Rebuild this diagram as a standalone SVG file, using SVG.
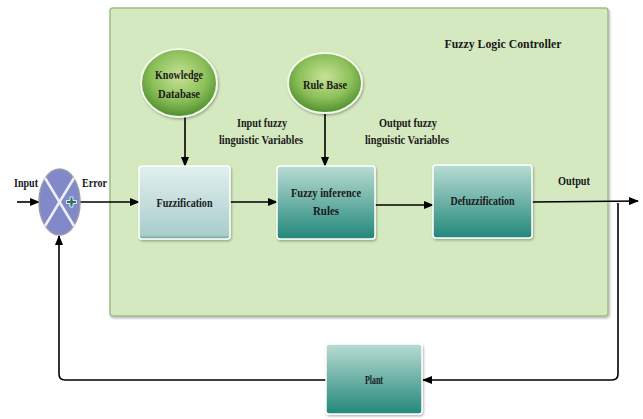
<svg xmlns="http://www.w3.org/2000/svg" width="643" height="419" viewBox="0 0 643 419">
<defs>
<radialGradient id="gEll" cx="50%" cy="40%" r="60%">
<stop offset="0" stop-color="#c8e296"/>
<stop offset="0.6" stop-color="#8cc05a"/>
<stop offset="1" stop-color="#4e8e2c"/>
</radialGradient>
<linearGradient id="gFuzz" x1="0" y1="0" x2="0" y2="1">
<stop offset="0" stop-color="#e2f0ef"/>
<stop offset="0.95" stop-color="#a9cdcb"/>
<stop offset="1" stop-color="#5e9f98"/>
</linearGradient>
<linearGradient id="gTeal" x1="0" y1="0" x2="0" y2="1">
<stop offset="0" stop-color="#b9dcd3"/>
<stop offset="1" stop-color="#22877a"/>
</linearGradient>
<filter id="sh" x="-10%" y="-10%" width="130%" height="130%">
<feDropShadow dx="1" dy="1.5" stdDeviation="1.2" flood-color="#000" flood-opacity="0.3"/>
</filter>
<marker id="ah" markerWidth="10" markerHeight="8" refX="9" refY="4" orient="auto" markerUnits="userSpaceOnUse">
<path d="M0,0 L10,4 L0,8 Z" fill="#000"/>
</marker>
</defs>
<style>
text{font-family:"Liberation Serif","Times New Roman",serif;font-weight:bold;fill:#1a1a1a;font-size:13px}
.c{text-anchor:middle}
.box{stroke:#ffffff;stroke-width:1.5;filter:url(#sh)}
.ell{fill:url(#gEll);stroke:#f4f8ec;stroke-width:2;filter:url(#sh)}
.ln{fill:none;stroke:#000;stroke-width:1.6}
</style>
<rect width="643" height="419" fill="#fff"/>

<g id="controller">
<rect x="110" y="8" width="498" height="308" rx="3" fill="#d4e9bf" stroke="#9fbf87" stroke-width="1.5" filter="url(#sh)"/>
<text x="503" y="48" class="c" font-size="13" textLength="117" lengthAdjust="spacingAndGlyphs">Fuzzy Logic Controller</text>
</g>

<g id="connectors">
<line class="ln" x1="17" y1="202" x2="39" y2="202" marker-end="url(#ah)"/>
<line class="ln" x1="80" y1="202" x2="139" y2="202" marker-end="url(#ah)"/>
<line class="ln" x1="185" y1="117" x2="185" y2="166" marker-end="url(#ah)"/>
<line class="ln" x1="325" y1="113" x2="325" y2="166" marker-end="url(#ah)"/>
<line class="ln" x1="230" y1="202" x2="277" y2="202" marker-end="url(#ah)"/>
<line class="ln" x1="375" y1="205" x2="433" y2="205" marker-end="url(#ah)"/>
<line class="ln" x1="532" y1="202" x2="638" y2="201" marker-end="url(#ah)"/>
<path class="ln" d="M618,203 V374 Q618,380 612,380 H423" marker-end="url(#ah)"/>
<path class="ln" d="M326,380 H65 Q59,380 59,374 V236" marker-end="url(#ah)"/>
</g>

<g id="junction">
<ellipse cx="59.5" cy="202" rx="20.5" ry="33" fill="#8289c8" stroke="#9a9aa8" stroke-width="1.5"/>
<line x1="45" y1="178" x2="74" y2="226" stroke="#eef0f8" stroke-width="2.5"/>
<line x1="74" y1="178" x2="45" y2="226" stroke="#eef0f8" stroke-width="2.5"/>
<path d="M70,197 h3 v3.5 h3.5 v3 h-3.5 v3.5 h-3 v-3.5 h-3.5 v-3 h3.5 Z" fill="#2f6f6a" stroke="#d8f0ee" stroke-width="1"/>
</g>
<text x="14" y="187" textLength="24" lengthAdjust="spacingAndGlyphs">Input</text>
<text x="82" y="187" textLength="25" lengthAdjust="spacingAndGlyphs">Error</text>

<g id="knowledge">
<ellipse class="ell" cx="179" cy="83" rx="38" ry="34"/>
<text x="179" y="79" class="c" textLength="48" lengthAdjust="spacingAndGlyphs">Knowledge</text>
<text x="179" y="98" class="c" textLength="42" lengthAdjust="spacingAndGlyphs">Database</text>
</g>

<g id="rulebase">
<ellipse class="ell" cx="325" cy="83" rx="37" ry="30"/>
<text x="325" y="89" class="c" textLength="44" lengthAdjust="spacingAndGlyphs">Rule Base</text>
</g>

<text x="262" y="127" class="c" textLength="50" lengthAdjust="spacingAndGlyphs">Input fuzzy</text>
<text x="261" y="144" class="c" textLength="84" lengthAdjust="spacingAndGlyphs">linguistic Variables</text>
<text x="408" y="127" class="c" textLength="58" lengthAdjust="spacingAndGlyphs">Output fuzzy</text>
<text x="407" y="144" class="c" textLength="84" lengthAdjust="spacingAndGlyphs">linguistic Variables</text>

<g id="fuzzification">
<rect class="box" x="139" y="166" width="91" height="73" rx="3" fill="url(#gFuzz)"/>
<text x="184.5" y="207" class="c" textLength="56" lengthAdjust="spacingAndGlyphs">Fuzzification</text>
</g>

<g id="inference">
<rect class="box" x="277" y="166" width="98" height="73" rx="3" fill="url(#gTeal)"/>
<text x="326" y="197" class="c" textLength="70" lengthAdjust="spacingAndGlyphs">Fuzzy inference</text>
<text x="326" y="215" class="c" textLength="26" lengthAdjust="spacingAndGlyphs">Rules</text>
</g>

<g id="defuzzification">
<rect class="box" x="433" y="165" width="99" height="73" rx="3" fill="url(#gTeal)"/>
<text x="482.5" y="205" class="c" font-size="11" textLength="64" lengthAdjust="spacingAndGlyphs">Defuzzification</text>
</g>

<text x="558" y="185" textLength="32" lengthAdjust="spacingAndGlyphs">Output</text>

<g id="plant">
<rect class="box" x="326" y="344" width="96" height="70" rx="3" fill="url(#gTeal)"/>
<text x="374" y="384" class="c" font-size="10" textLength="18" lengthAdjust="spacingAndGlyphs">Plant</text>
</g>
</svg>
